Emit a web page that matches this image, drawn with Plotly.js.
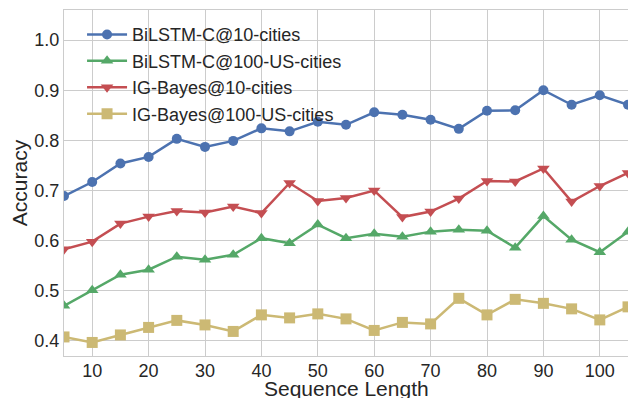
<!DOCTYPE html>
<html><head><meta charset="utf-8">
<script src="https://cdn.plot.ly/plotly-3.0.1.min.js"></script>
<style>html,body{margin:0;padding:0;background:#fff}#chart{width:628px;height:398px}</style>
</head><body><div id="chart"></div>
<script>
const seqLen = [5,10,15,20,25,30,35,40,45,50,55,60,65,70,75,80,85,90,95,100,105];
const bilstm10 = [0.689,0.717,0.754,0.767,0.803,0.787,0.799,0.824,0.818,0.837,0.831,0.856,0.851,0.841,0.823,0.859,0.860,0.900,0.871,0.890,0.871];
const bilstm100 = [0.470,0.501,0.532,0.542,0.568,0.562,0.572,0.605,0.595,0.632,0.605,0.614,0.608,0.618,0.622,0.620,0.586,0.649,0.602,0.577,0.618];
const igb10 = [0.583,0.598,0.634,0.648,0.659,0.656,0.668,0.655,0.715,0.679,0.685,0.700,0.647,0.658,0.684,0.719,0.718,0.744,0.678,0.709,0.735];
const igb100 = [0.408,0.397,0.412,0.427,0.441,0.432,0.419,0.452,0.446,0.454,0.444,0.421,0.437,0.434,0.485,0.452,0.483,0.475,0.464,0.442,0.468];
const names = ["BiLSTM-C@10-cities","BiLSTM-C@100-US-cities","IG-Bayes@10-cities","IG-Bayes@100-US-cities"];
const xTitle = "Sequence Length";
const yTitle = "Accuracy";
const series = [bilstm10, bilstm100, igb10, igb100];
const colors = ["#4C72B0","#55A868","#C44E52","#CCB974"];
const symbols = ["circle","triangle-up","triangle-down","square"];
const traces = series.map((s,i)=>({
  x: seqLen, y: s, name: names[i], type:'scatter', mode:'lines+markers',
  line:{color:colors[i], width:2.5},
  marker:{color:colors[i], symbol:symbols[i], size: i===0?10:11}
}));
const font = {family:'"Liberation Sans", Arial, sans-serif', color:'#262626'};
const layout = {
  width:628, height:398,
  margin:{l:64, r:0, t:10, b:42},
  paper_bgcolor:'#fff', plot_bgcolor:'#fff',
  font: Object.assign({size:18}, font),
  showlegend:true,
  legend:{x:0.032, y:0.982, xanchor:'left', yanchor:'top', bgcolor:'rgba(0,0,0,0)', font:{size:18}, tracegroupgap:0, itemwidth:40},
  xaxis:{range:[5,105], tickvals:[10,20,30,40,50,60,70,80,90,100], showgrid:true, gridcolor:'#cccccc', gridwidth:1,
    showline:true, linecolor:'#cccccc', linewidth:1.2, mirror:true, zeroline:false, ticks:'', tickfont:{size:18},
    ticklabelstandoff:-2},
  yaxis:{range:[0.37,1.06], tickvals:[0.4,0.5,0.6,0.7,0.8,0.9,1.0], ticktext:['0.4','0.5','0.6','0.7','0.8','0.9','1.0'],
    showgrid:true, gridcolor:'#cccccc', gridwidth:1,
    showline:true, linecolor:'#cccccc', linewidth:1.2, mirror:true, zeroline:false, ticks:'', tickfont:{size:18},
    title:{text:yTitle, font:{size:21}, standoff:0}},
  annotations:[{text:xTitle, xref:'paper', yref:'paper', x:0.5, y:-32/346, xanchor:'center', yanchor:'middle',
    showarrow:false, font:{size:21}}]
};
Plotly.newPlot('chart', traces, layout, {displayModeBar:false, staticPlot:true});
</script></body></html>
